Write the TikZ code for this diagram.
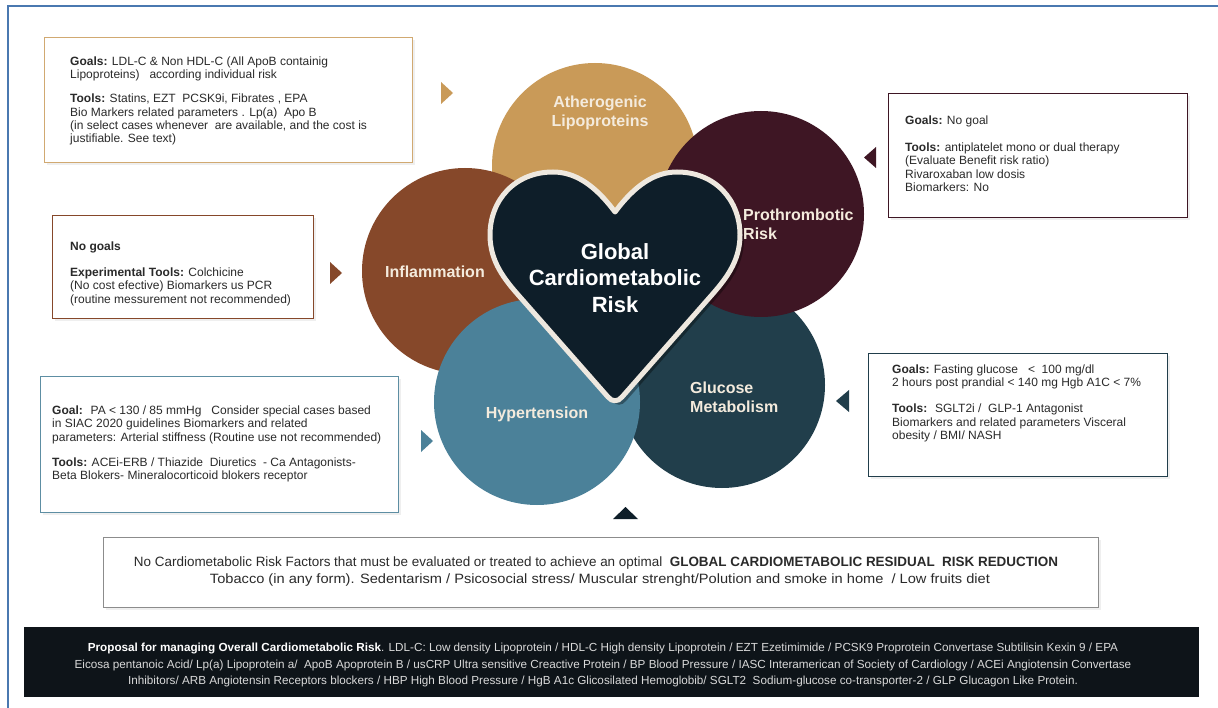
\documentclass[tikz,border=0pt]{standalone}
\usepackage{fontspec}
\usepackage{graphicx}
\setmainfont{Liberation Sans}
\usetikzlibrary{shadows}
\definecolor{cgold}{HTML}{C99A58}
\definecolor{cmaroon}{HTML}{3E1624}
\definecolor{cbrown}{HTML}{86482A}
\definecolor{cblue}{HTML}{4B8199}
\definecolor{cteal}{HTML}{213E4B}
\definecolor{cheart}{HTML}{0E1E29}
\definecolor{ccream}{HTML}{EEE8DF}
\definecolor{clabel}{HTML}{F4EBDD}
\definecolor{cband}{HTML}{0E1419}
\definecolor{cframe}{HTML}{4A78B0}
\definecolor{ctext}{HTML}{2A2A2A}
\tikzset{
  bubble/.style={circle, inner sep=0pt, minimum size=206pt},
  bublabel/.style={text=clabel, font=\fontsize{16}{19}\selectfont\bfseries, inner sep=0pt},
  infobox/.style={draw, line width=1.4pt, fill=white, inner sep=0pt, anchor=north west,
     drop shadow={opacity=0.12, shadow xshift=2pt, shadow yshift=-2pt}},
  infotext/.style={anchor=north west, inner sep=0pt, align=left, text=ctext,
     font=\fontsize{12}{13.4}\selectfont},
}
\begin{document}
\begin{tikzpicture}[x=1pt,y=-1pt]
\useasboundingbox (0,0) rectangle (1218,708);
\fill[white] (0,0) rectangle (1218,708);
% outer frame
\draw[cframe, line width=1.2pt] (8,708) -- (8,6) -- (1218,6);

% circles
\node[bubble, fill=cteal]   (glu) at (722,385) {};
\node[bubble, fill=cgold]   (ath) at (595,166) {};
\node[bubble, fill=cbrown]  (inf) at (465,271) {};
\node[bubble, fill=cmaroon] (pro) at (761,214) {};
\node[bubble, fill=cblue]   (hyp) at (537,402) {};

% heart
\fill[black, opacity=0.35] (619,216) .. controls (599,189) and (579,176) .. (557,176)
  .. controls (519,176) and (494,204) .. (494,239) .. controls (494,266) and (509,284) .. (524,301)
  -- (612,401) .. controls (616,406) and (622,406) .. (626,401) -- (714,301)
  .. controls (729,284) and (744,266) .. (744,239) .. controls (744,204) and (719,176) .. (681,176)
  .. controls (659,176) and (639,189) .. (619,216) -- cycle;
\draw[fill=cheart, draw=ccream, line width=5pt, line join=round] (615,212) .. controls (595,185) and (575,172) .. (553,172)
  .. controls (515,172) and (490,200) .. (490,235) .. controls (490,262) and (505,280) .. (520,297)
  -- (608,397) .. controls (612,402) and (618,402) .. (622,397) -- (710,297)
  .. controls (725,280) and (740,262) .. (740,235) .. controls (740,200) and (715,172) .. (677,172)
  .. controls (655,172) and (635,185) .. (615,212) -- cycle;
\node[text=white, font=\fontsize{22}{26.5}\selectfont\bfseries, align=center, inner sep=0pt] (core) at (615,278) {Global\\Cardiometabolic\\Risk};

% circle labels
\node[bublabel, align=center] (lath) at (600,113) {Atherogenic\\Lipoproteins};
\node[bublabel, align=left, anchor=west] (lpro) at (743,224) {Prothrombotic\\Risk};
\node[bublabel] (linf) at (435,272) {Inflammation};
\node[bublabel] (lhyp) at (537,414) {Hypertension};
\node[bublabel, align=left, anchor=west] (lglu) at (690,397) {Glucose\\Metabolism};

% markers
\fill[cgold]   (441,82) -- (453,93) -- (441,104) -- cycle;
\fill[cmaroon] (876,147) -- (864,157.5) -- (876,168) -- cycle;
\fill[cbrown]  (330,262) -- (342,273) -- (330,284) -- cycle;
\fill[cblue]   (421,430) -- (433,441) -- (421,452) -- cycle;
\fill[cteal]   (849,390) -- (836,401) -- (849,412) -- cycle;
\fill[cheart]  (613,519) -- (625.5,507) -- (638,519) -- cycle;

% info boxes
\node[infobox, draw=cgold!85!white, minimum width=368pt, minimum height=125pt] (bath) at (44,37) {};
\node[infotext] (tath) at (70,56.5) {\textbf{Goals:} LDL-C \& Non HDL-C (All ApoB containig\\
Lipoproteins) \ \ according individual risk\\[10.6pt]
\textbf{Tools:} Statins, EZT \ PCSK9i, Fibrates , EPA\\
Bio Markers related parameters . Lp(a) \ Apo B\\
(in select cases whenever \ are available, and the cost is\\
justifiable. See text)};

\node[infobox, draw=cmaroon, minimum width=299pt, minimum height=124pt] (bpro) at (888,93) {};
\node[infotext] (tpro) at (905,115.5) {\textbf{Goals:} No goal\\[13.6pt]
\textbf{Tools:} antiplatelet mono or dual therapy\\
(Evaluate Benefit risk ratio)\\
Rivaroxaban low dosis\\
Biomarkers: No};

\node[infobox, draw=cbrown, minimum width=261pt, minimum height=103pt] (binf) at (52,215) {};
\node[infotext] (tinf) at (70,241.5) {\textbf{No goals}\\[12.6pt]
\textbf{Experimental Tools:} Colchicine\\
(No cost efective) Biomarkers us PCR\\
(routine messurement not recommended)};

\node[infobox, draw=cblue!90!white, minimum width=358pt, minimum height=136pt] (bhyp) at (40,376) {};
\node[infotext] (thyp) at (52,405.5) {\textbf{Goal:} \ PA < 130 / 85 mmHg \ \ Consider special cases based\\
in SIAC 2020 guidelines Biomarkers and related\\
parameters: Arterial stiffness (Routine use not recommended)\\[11.6pt]
\textbf{Tools:} ACEi-ERB / Thiazide \ Diuretics \ - Ca Antagonists-\\
Beta Blokers- Mineralocorticoid blokers receptor};

\node[infobox, draw=cteal, minimum width=299pt, minimum height=123pt] (bglu) at (868,353) {};
\node[infotext] (tglu) at (892,364.5) {\textbf{Goals:} Fasting glucose \ \ < \ 100 mg/dl\\
2 hours post prandial < 140 mg Hgb A1C < 7\%\\[12.6pt]
\textbf{Tools:} \ SGLT2i / \ GLP-1 Antagonist\\
Biomarkers and related parameters Visceral\\
obesity / BMI/ NASH};

% bottom box
\node[infobox, draw=black!45, line width=1pt, minimum width=995pt, minimum height=70pt] (bres) at (103,537) {};
\node[inner sep=0pt, text=ctext, font=\fontsize{13.5}{16}\selectfont] (tres1) at (596,563)
  {\resizebox{924pt}{\height}{No Cardiometabolic Risk Factors that must be evaluated or treated to achieve an optimal \ \textbf{GLOBAL CARDIOMETABOLIC RESIDUAL \ RISK REDUCTION}}};
\node[inner sep=0pt, text=ctext, font=\fontsize{13.5}{16}\selectfont] (tres2) at (600,580)
  {\resizebox{780pt}{\height}{Tobacco (in any form). Sedentarism / Psicosocial stress/ Muscular strenght/Polution and smoke in home \ / Low fruits diet}};

% black band
\node[fill=cband, inner sep=0pt, minimum width=1175pt, minimum height=70pt, anchor=north west] (band) at (24,627) {};
\node[inner sep=0pt, text=black!15, font=\fontsize{11.7}{16.5}\selectfont, align=center] (tband) at (603,665)
  {\textcolor{white}{\textbf{Proposal for managing Overall Cardiometabolic Risk}}. LDL-C: Low density Lipoprotein / HDL-C High density Lipoprotein / EZT Ezetimimide / PCSK9 Proprotein Convertase Subtilisin Kexin 9 / EPA\\
Eicosa pentanoic Acid/ Lp(a) Lipoprotein a/ \ ApoB Apoprotein B / usCRP Ultra sensitive Creactive Protein / BP Blood Pressure / IASC Interamerican of Society of Cardiology / ACEi Angiotensin Convertase\\
Inhibitors/ ARB Angiotensin Receptors blockers / HBP High Blood Pressure / HgB A1c Glicosilated Hemoglobib/ SGLT2 \ Sodium-glucose co-transporter-2 / GLP Glucagon Like Protein.};
\end{tikzpicture}
\end{document}
